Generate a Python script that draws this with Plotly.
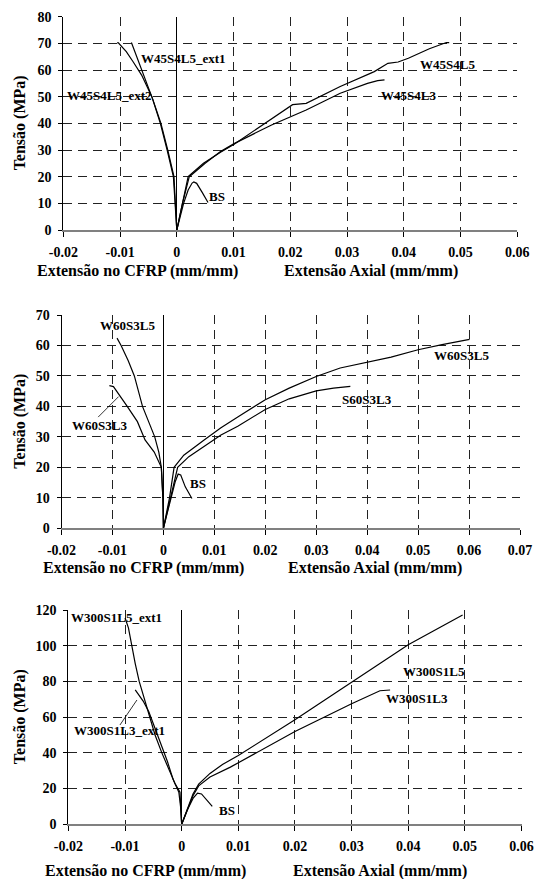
import plotly.graph_objects as go

FONT = "Times New Roman, Liberation Serif, Tinos, serif"

# ---------------- Panel 1 data ----------------
p1_L5_x = [0, 0.001, 0.002, 0.0047, 0.0077, 0.0101, 0.0155, 0.0200, 0.0204, 0.0228, 0.0288, 0.0348, 0.0372, 0.0390, 0.0408, 0.0445, 0.0475, 0.0480]
p1_L5_y = [0, 10, 20, 25, 29.2, 32.2, 40, 46.3, 47, 47.5, 53.8, 59.4, 62.5, 63, 64.4, 68, 70.3, 70.3]
p1_L3_x = [0, 0.001, 0.0022, 0.005, 0.0077, 0.0101, 0.0167, 0.0228, 0.0288, 0.0336, 0.0354, 0.0366]
p1_L3_y = [0, 10, 20, 25, 29.4, 32.4, 39.4, 45, 51.3, 55, 56, 56.3]
p1_ext1_x = [0, -0.0002, -0.0005, -0.0016, -0.0028, -0.0042, -0.0054, -0.0066, -0.0079, -0.0080]
p1_ext1_y = [0, 10, 20, 30, 40, 48.8, 55.6, 62.5, 70.2, 70.3]
p1_ext2_x = [0, -0.0003, -0.0006, -0.0017, -0.0029, -0.0044, -0.0062, -0.0077, -0.0089, -0.0103, -0.0105]
p1_ext2_y = [0, 10, 20, 30, 40, 50, 58.1, 63.1, 66.9, 70.2, 70.3]
p1_BS_x = [0, 0.0012, 0.002, 0.0027, 0.003, 0.0035, 0.0045, 0.0055]
p1_BS_y = [0, 10, 15, 17.6, 18, 17.5, 14, 10.3]
p1_labels = ["W45S4L5_ext1", "W45S4L5_ext2", "W45S4L5", "W45S4L3", "BS"]
p1_label_x = [-0.0067, -0.0197, 0.0425, 0.0357, 0.0054]
p1_label_y = [64.4, 50.6, 61.9, 50.6, 12.75]

# ---------------- Panel 2 data ----------------
p2_L5_x = [0, 0.0012, 0.0021, 0.004, 0.008, 0.0113, 0.0146, 0.020, 0.0247, 0.030, 0.0347, 0.040, 0.0447, 0.050, 0.0547, 0.0601]
p2_L5_y = [0, 10, 20, 24, 29, 33, 36.5, 42.2, 46, 49.8, 52.6, 54.4, 56.2, 58.6, 60.3, 62]
p2_L3_x = [0, 0.0014, 0.0028, 0.005, 0.008, 0.0113, 0.0146, 0.020, 0.0247, 0.030, 0.0334, 0.0367]
p2_L3_y = [0, 10, 20, 23.5, 27, 30.6, 33.5, 39, 42.5, 45.1, 46, 46.6]
p2_cL5_x = [0, -0.0001, -0.0004, -0.0009, -0.0017, -0.0041, -0.0057, -0.0069, -0.0083, -0.0091]
p2_cL5_y = [0, 10, 20, 25, 30, 40, 50, 55, 60, 62.4]
p2_cL3_x = [0, -0.0001, -0.0004, -0.0018, -0.0036, -0.0051, -0.0071, -0.0084, -0.0091, -0.0098, -0.0106]
p2_cL3_y = [0, 10, 20, 25, 29, 35, 40, 43, 45, 46.5, 46.8]
p2_BS_x = [0, 0.0012, 0.0023, 0.0029, 0.0034, 0.0043, 0.0056]
p2_BS_y = [0, 8, 15.2, 17.8, 17.5, 13.6, 9.8]
p2_labels = ["W60S3L5", "W60S3L3", "W60S3L5", "S60S3L3", "BS"]
p2_label_x = [-0.0128, -0.0184, 0.0527, 0.0347, 0.0049]
p2_label_y = [66.4, 33.7, 56.6, 42.4, 14.7]
p2_leader_x = [-0.0128, -0.0088]
p2_leader_y = [36.5, 43.2]

# ---------------- Panel 3 data ----------------
p3_L5_x = [0, 0.001, 0.002, 0.003, 0.005, 0.0072, 0.010, 0.020, 0.030, 0.040, 0.0496]
p3_L5_y = [0, 9, 17, 22.5, 28.5, 33.5, 38.5, 58.5, 79.5, 100.5, 117.2]
p3_L3_x = [0, 0.001, 0.002, 0.003, 0.005, 0.0086, 0.010, 0.020, 0.030, 0.033, 0.035, 0.0368]
p3_L3_y = [0, 8.5, 16, 21.5, 26.5, 32, 34.5, 52, 67.5, 72, 74.8, 75.2]
p3_cL5_x = [0, -0.0001, -0.0003, -0.0012, -0.0022, -0.0035, -0.0047, -0.0056, -0.0066, -0.0075, -0.0082, -0.0088, -0.0094, -0.0100]
p3_cL5_y = [0, 10, 18, 23, 30, 40, 50, 60, 70, 80, 90, 100, 110, 115.5]
p3_cL3_x = [0, -0.0002, -0.0005, -0.0015, -0.0025, -0.0037, -0.0048, -0.0058, -0.0068, -0.0077, -0.0082]
p3_cL3_y = [0, 10, 18, 25, 35, 45, 55, 63, 69, 73, 75.3]
p3_BS_x = [0, 0.001, 0.002, 0.0028, 0.0035, 0.0045, 0.0054]
p3_BS_y = [0, 8, 14.5, 17.5, 17, 13.5, 10]
p3_labels = ["W300S1L5_ext1", "W300S1L3_ext1", "W300S1L5", "W300S1L3", "BS"]
p3_label_x = [-0.0199, -0.0193, 0.0387, 0.0357, 0.0063]
p3_label_y = [115.9, 52.8, 85.4, 70.5, 8]
p3_leader_x = [-0.0109, -0.0079]
p3_leader_y = [55.6, 69.6]

# ---------------- Axis ticks ----------------
x_ticks_1 = [-0.02, -0.01, 0, 0.01, 0.02, 0.03, 0.04, 0.05, 0.06]
x_text_1 = ["-0.02", "-0.01", "0", "0.01", "0.02", "0.03", "0.04", "0.05", "0.06"]
x_ticks_2 = [-0.02, -0.01, 0, 0.01, 0.02, 0.03, 0.04, 0.05, 0.06, 0.07]
x_text_2 = ["-0.02", "-0.01", "0", "0.01", "0.02", "0.03", "0.04", "0.05", "0.06", "0.07"]
y_ticks_1 = [0, 10, 20, 30, 40, 50, 60, 70, 80]
y_ticks_2 = [0, 10, 20, 30, 40, 50, 60, 70]
y_ticks_3 = [0, 20, 40, 60, 80, 100, 120]

x_title_left = "Extensão no CFRP (mm/mm)"
x_title_right = "Extensão Axial (mm/mm)"
y_title = "Tensão (MPa)"

W, H = 534, 879
# panel pixel boxes: (left, right, top, bottom)
boxes = [(63.3, 517.3, 16.7, 230.0), (61.5, 520.0, 315.0, 528.3), (68.4, 521.5, 610.0, 824.3)]

fig = go.Figure()

line_style = dict(color="black", width=1.2)


def b(s):
    return "<b>" + str(s) + "</b>"


def add(xs, ys, n, style=line_style):
    fig.add_trace(go.Scatter(x=xs, y=ys, mode="lines", line=style,
                             xaxis="x" if n == 1 else f"x{n}",
                             yaxis="y" if n == 1 else f"y{n}",
                             showlegend=False, hoverinfo="skip"))


for xs, ys in [(p1_L5_x, p1_L5_y), (p1_L3_x, p1_L3_y), (p1_ext1_x, p1_ext1_y),
               (p1_ext2_x, p1_ext2_y), (p1_BS_x, p1_BS_y)]:
    add(xs, ys, 1)
for xs, ys in [(p2_L5_x, p2_L5_y), (p2_L3_x, p2_L3_y), (p2_cL5_x, p2_cL5_y),
               (p2_cL3_x, p2_cL3_y), (p2_BS_x, p2_BS_y)]:
    add(xs, ys, 2)
for xs, ys in [(p3_L5_x, p3_L5_y), (p3_L3_x, p3_L3_y), (p3_cL5_x, p3_cL5_y),
               (p3_cL3_x, p3_cL3_y), (p3_BS_x, p3_BS_y)]:
    add(xs, ys, 3)
leader_style = dict(color="black", width=0.8)
add(p2_leader_x, p2_leader_y, 2, leader_style)
add(p3_leader_x, p3_leader_y, 3, leader_style)

tickfont = dict(family=FONT, size=14, color="black")
grid = dict(showgrid=True, gridcolor="#222", gridwidth=1, griddash="9px,6px")

xranges = [[-0.02, 0.06], [-0.02, 0.07], [-0.02, 0.06]]
yranges = [[0, 80], [0, 70], [0, 120]]
xticks = [(x_ticks_1, x_text_1), (x_ticks_2, x_text_2), (x_ticks_1, x_text_1)]
yticks = [y_ticks_1, y_ticks_2, y_ticks_3]

layout = dict(width=W, height=H, margin=dict(l=0, r=0, t=0, b=0, autoexpand=False),
              paper_bgcolor="white", plot_bgcolor="white", showlegend=False,
              template="none")
annotations = []
for i in range(3):
    l, r, t, bt = boxes[i]
    sfx = "" if i == 0 else str(i + 1)
    xd = [l / W, r / W]
    yd = [1 - bt / H, 1 - t / H]
    layout["xaxis" + sfx] = dict(domain=xd, range=xranges[i], anchor="y" + sfx, automargin=False,
                                 tickmode="array", tickvals=xticks[i][0],
                                 ticktext=[b(s) for s in xticks[i][1]],
                                 tickfont=tickfont, ticks="outside", ticklen=5, tickcolor="black",
                                 tickwidth=1, ticklabelstandoff=3,
                                 showline=True, linecolor="#808080", linewidth=1.5,
                                 zeroline=True, zerolinecolor="black", zerolinewidth=1,
                                 **grid)
    layout["yaxis" + sfx] = dict(domain=yd, range=yranges[i], anchor="x" + sfx, automargin=False,
                                 tickmode="array", tickvals=yticks[i],
                                 ticktext=[b(v) for v in yticks[i]], tickfont=tickfont,
                                 ticks="outside", ticklen=4, tickcolor="black", tickwidth=1,
                                 ticklabelstandoff=4,
                                 showline=True, linecolor="black", linewidth=1,
                                 zeroline=False, **grid)
    title_y = 1 - (bt + [41, 40, 47][i]) / H
    for txt, cx in [(x_title_left, [137, 143.6, 145][i]), (x_title_right, [371, 375, 380][i])]:
        annotations.append(dict(text=b(txt), x=cx / W, y=title_y, xref="paper", yref="paper",
                                showarrow=False, xanchor="center", yanchor="middle",
                                font=dict(family=FONT, size=16, color="black")))
    annotations.append(dict(text=b(y_title), x=20 / W, y=1 - (t + bt) / 2 / H, xref="paper", yref="paper",
                            showarrow=False, textangle=-90, xanchor="center", yanchor="middle",
                            font=dict(family=FONT, size=16, color="black")))

for n, (labs, lx, ly) in enumerate([(p1_labels, p1_label_x, p1_label_y),
                                    (p2_labels, p2_label_x, p2_label_y),
                                    (p3_labels, p3_label_x, p3_label_y)], start=1):
    for txt, xx, yy in zip(labs, lx, ly):
        annotations.append(dict(text=b(txt), x=xx, y=yy, xref="x" if n == 1 else f"x{n}",
                                yref="y" if n == 1 else f"y{n}", showarrow=False,
                                xanchor="left", yanchor="middle",
                                font=dict(family=FONT, size=13, color="black")))

layout["annotations"] = annotations
fig.update_layout(**layout)
fig.write_html("out.html", config={"displayModeBar": False},
               post_script="document.body.style.margin='0px';document.body.style.padding='0px';")
